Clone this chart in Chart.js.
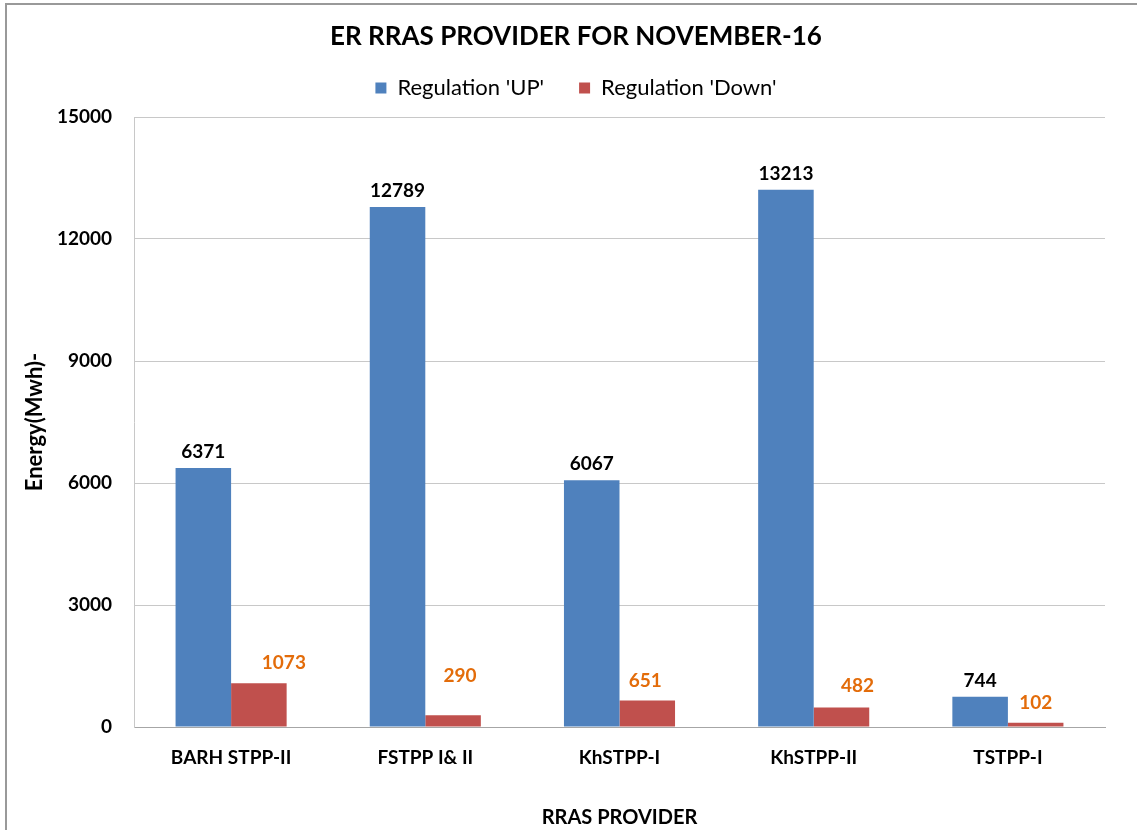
<!DOCTYPE html>
<html>
<head>
<meta charset="utf-8">
<script src="https://cdn.jsdelivr.net/npm/chart.js@4.4.0/dist/chart.umd.min.js"></script>
<style>
  html, body { margin: 0; padding: 0; background: #fff; }
  #wrap { position: relative; width: 1137px; height: 830px; }
  #frame { position: absolute; left: 5px; top: 3px; right: -2px; bottom: -2px;
           border-left: 2px solid #999; border-top: 2px solid #999; }
  canvas { position: absolute; left: 0; top: 0; }
</style>
</head>
<body>
<div id="wrap">
  <div id="frame"></div>
  <canvas id="chart" width="1137" height="830"></canvas>
</div>
<script>
// chart data
const providers = ['BARH STPP-II', 'FSTPP I& II', 'KhSTPP-I', 'KhSTPP-II', 'TSTPP-I'];
const regulationUp = [6371, 12789, 6067, 13213, 744];
const regulationDown = [1073, 290, 651, 482, 102];
const yTicks = [0, 3000, 6000, 9000, 12000, 15000];

// label nudges (px) for the down labels, as placed in the original
const downLabelShiftX = [25, 7, -2, 16, 0];
const downLabelShiftY = [0, 19, 0, 1, 0];

const FONT = 'Lato, "Open Sans", sans-serif';

// draws the value labels above each bar
const valueLabels = {
    id: 'valueLabels',
    afterDatasetsDraw(chart) {
        const ctx = chart.ctx;
        ctx.save();
        ctx.font = 'bold 19px ' + FONT;
        ctx.textAlign = 'center';
        ctx.textBaseline = 'alphabetic';
        chart.data.datasets.forEach((ds, i) => {
            const meta = chart.getDatasetMeta(i);
            meta.data.forEach((bar, j) => {
                let x = bar.x, y = bar.y - 10;
                if (i === 1) {
                    x += downLabelShiftX[j];
                    y -= 4 + downLabelShiftY[j];
                    ctx.fillStyle = '#E36C0A';
                } else {
                    ctx.fillStyle = '#000';
                }
                ctx.fillText(ds.data[j], x, y);
            });
        });
        ctx.restore();
    }
};

const ctx = document.getElementById('chart').getContext('2d');
new Chart(ctx, {
    type: 'bar',
    data: {
        labels: providers,
        datasets: [
            {
                label: "Regulation 'UP'",
                data: regulationUp,
                backgroundColor: '#4F81BD'
            },
            {
                label: "Regulation 'Down'",
                data: regulationDown,
                backgroundColor: '#C0504D'
            }
        ]
    },
    options: {
        responsive: false,
        animation: false,
        layout: { padding: { left: 47, right: 32, top: 0, bottom: 0 } },
        datasets: {
            bar: { categoryPercentage: 0.572, barPercentage: 1 }
        },
        plugins: {
            title: {
                display: true,
                text: 'ER RRAS PROVIDER FOR NOVEMBER-16',
                color: '#000',
                font: { family: FONT, size: 26, weight: 'bold' },
                padding: { top: 21.4, bottom: -10.6 }
            },
            legend: {
                display: true,
                labels: {
                    color: '#000',
                    font: { family: FONT, size: 22 },
                    boxWidth: 11,
                    boxHeight: 11,
                    padding: 35
                }
            },
            // empty spacer between the legend and the plot
            subtitle: {
                display: true,
                text: '',
                weight: 500,
                font: { size: 5 },
                padding: { top: 0, bottom: 2 }
            },
            tooltip: { enabled: false }
        },
        scales: {
            x: {
                grid: { display: false, drawTicks: false },
                border: { color: '#A6A6A6', width: 1 },
                ticks: {
                    color: '#000',
                    font: { family: FONT, size: 19, weight: 'bold' },
                    padding: 19
                },
                title: {
                    display: true,
                    text: 'RRAS PROVIDER',
                    color: '#000',
                    font: { family: FONT, size: 20, weight: 'bold' },
                    padding: { top: 0, bottom: 0 }
                },
                afterFit(scale) { scale.height = 103; }
            },
            y: {
                min: 0,
                max: 15000,
                afterBuildTicks(scale) {
                    scale.ticks = yTicks.map(v => ({ value: v }));
                },
                grid: { color: '#C8C8C8', drawTicks: false },
                border: { color: '#C8C8C8', width: 1 },
                ticks: {
                    color: '#000',
                    font: { family: FONT, size: 19, weight: 'bold' },
                    padding: 22,
                    callback: v => String(v)
                },
                title: {
                    display: true,
                    text: 'Energy(Mwh)-',
                    color: '#000',
                    font: { family: FONT, size: 22, weight: 'bold' },
                    padding: { top: -25.2, bottom: 0 }
                },
                afterFit(scale) { scale.width = 87; }
            }
        }
    },
    plugins: [valueLabels]
});
</script>
</body>
</html>
